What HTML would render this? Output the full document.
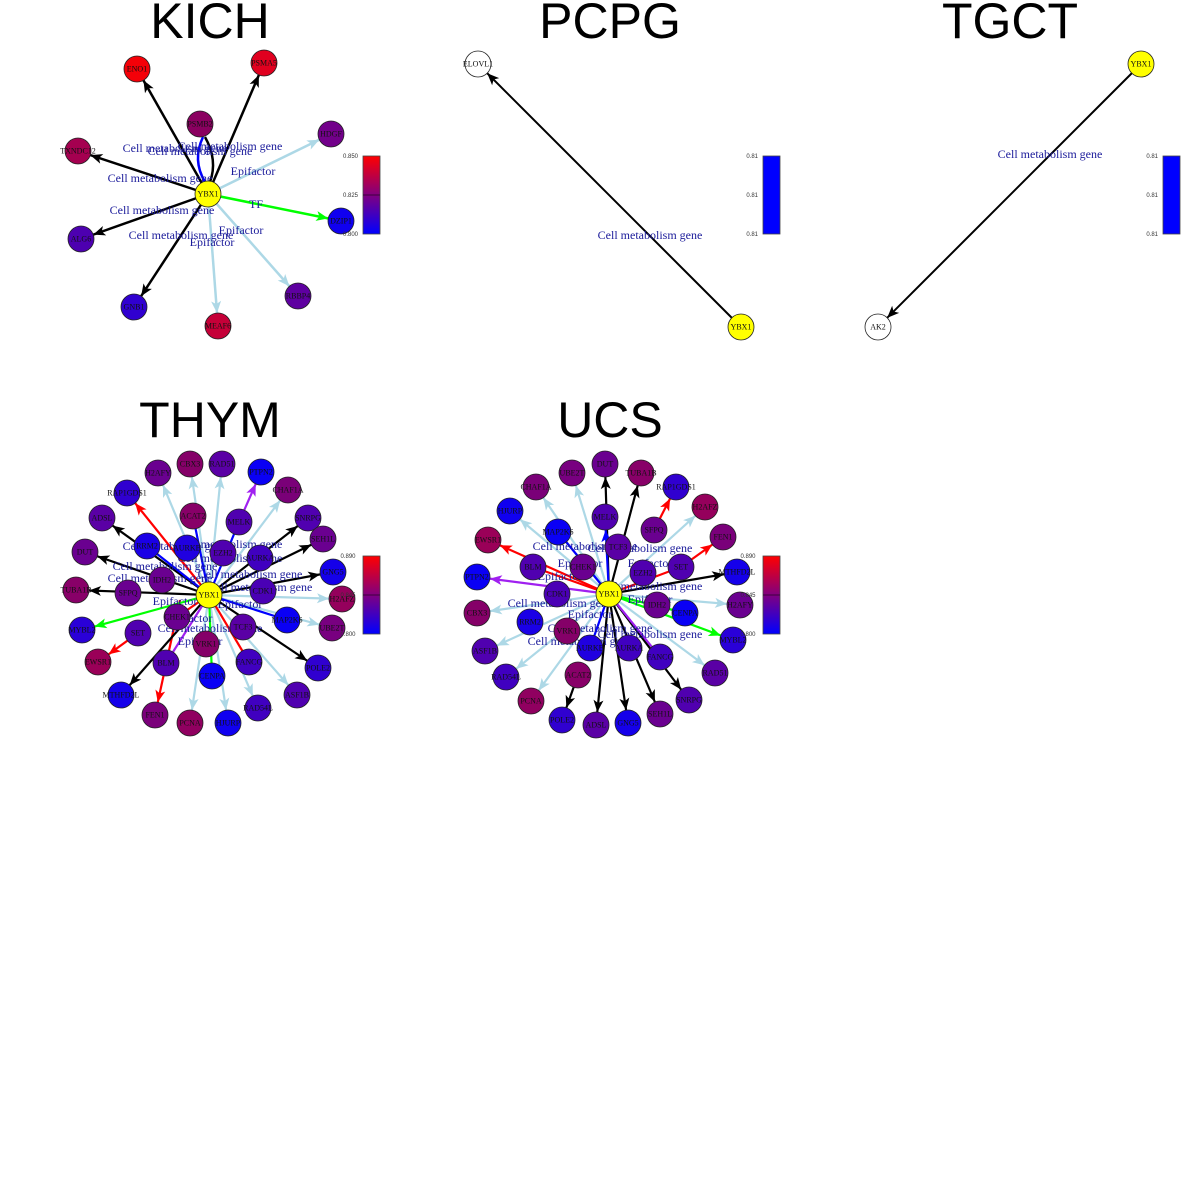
<!DOCTYPE html>
<html><head><meta charset="utf-8"><style>
body{margin:0;background:#fff;width:1200px;height:1200px;overflow:hidden}
svg{display:block}
.t{font-family:"Liberation Sans",sans-serif;font-size:50px;text-anchor:middle;fill:#000}
.n text{font-family:"Liberation Serif",serif;font-size:8px;text-anchor:middle;dominant-baseline:central;fill:#111}
.n circle{stroke:#222;stroke-width:0.8}
.l{font-family:"Liberation Serif",serif;font-size:12px;fill:#1a1a9a;text-anchor:middle}
.cb{font-family:"Liberation Sans",sans-serif;font-size:6px;fill:#333;text-anchor:end}
</style></head><body>
<svg width="1200" height="1200" viewBox="0 0 1200 1200" xmlns="http://www.w3.org/2000/svg">
<defs>
<marker id="mk" markerUnits="userSpaceOnUse" markerWidth="40" markerHeight="20" refX="25" refY="5" orient="auto" overflow="visible"><path d="M0,0 L12,5 L0,10 L3,5z" fill="#000"/></marker>
<marker id="mb" markerUnits="userSpaceOnUse" markerWidth="40" markerHeight="20" refX="25" refY="5" orient="auto" overflow="visible"><path d="M0,0 L12,5 L0,10 L3,5z" fill="#add8e6"/></marker>
<marker id="mr" markerUnits="userSpaceOnUse" markerWidth="40" markerHeight="20" refX="25" refY="5" orient="auto" overflow="visible"><path d="M0,0 L12,5 L0,10 L3,5z" fill="#f00"/></marker>
<marker id="mg" markerUnits="userSpaceOnUse" markerWidth="40" markerHeight="20" refX="25" refY="5" orient="auto" overflow="visible"><path d="M0,0 L12,5 L0,10 L3,5z" fill="#0f0"/></marker>
<marker id="mp" markerUnits="userSpaceOnUse" markerWidth="40" markerHeight="20" refX="25" refY="5" orient="auto" overflow="visible"><path d="M0,0 L12,5 L0,10 L3,5z" fill="#a020f0"/></marker>
<marker id="mu" markerUnits="userSpaceOnUse" markerWidth="40" markerHeight="20" refX="25" refY="5" orient="auto" overflow="visible"><path d="M0,0 L12,5 L0,10 L3,5z" fill="#00f"/></marker>
<linearGradient id="gr" x1="0" y1="0" x2="0" y2="1"><stop offset="0" stop-color="#f00"/><stop offset="0.5" stop-color="#800080"/><stop offset="1" stop-color="#00f"/></linearGradient>
</defs>

<text class="t" x="210" y="38">KICH</text>
<text class="t" x="610" y="38">PCPG</text>
<text class="t" x="1010" y="38">TGCT</text>
<text class="t" x="210" y="437">THYM</text>
<text class="t" x="610" y="437">UCS</text>

<!-- KICH -->
<g stroke-width="2.5" fill="none">
<line x1="208" y1="194" x2="137" y2="69" stroke="#000" marker-end="url(#mk)"/>
<line x1="208" y1="194" x2="264" y2="63" stroke="#000" marker-end="url(#mk)"/>
<line x1="208" y1="194" x2="78" y2="151" stroke="#000" marker-end="url(#mk)"/>
<line x1="208" y1="194" x2="81" y2="239" stroke="#000" marker-end="url(#mk)"/>
<line x1="208" y1="194" x2="134" y2="307" stroke="#000" marker-end="url(#mk)"/>
<line x1="208" y1="194" x2="331" y2="134" stroke="#add8e6" marker-end="url(#mb)"/>
<line x1="208" y1="194" x2="218" y2="326" stroke="#add8e6" marker-end="url(#mb)"/>
<line x1="208" y1="194" x2="298" y2="296" stroke="#add8e6" marker-end="url(#mb)"/>
<line x1="208" y1="194" x2="341" y2="221" stroke="#0f0" marker-end="url(#mg)"/>
<path d="M205,182 Q192,160 203,137" stroke="#00f"/>
<path d="M210,182 Q218,160 205,137" stroke="#000"/>
</g>
<g class="l">
<text x="175" y="152">Cell metabolism gene</text><text x="230" y="150">Cell metabolism gene</text><text x="200" y="155">Cell metabolism gene</text>
<text x="160" y="182">Cell metabolism gene</text><text x="162" y="214">Cell metabolism gene</text><text x="181" y="239">Cell metabolism gene</text>
<text x="253" y="175">Epifactor</text><text x="241" y="234">Epifactor</text><text x="212" y="246">Epifactor</text><text x="256" y="208">TF</text>
</g>
<g class="n">
<circle cx="137" cy="69" r="13" fill="#f40008"/><text x="137" y="69">ENO1</text>
<circle cx="264" cy="63" r="13" fill="#e0001f"/><text x="264" y="63">PSMA5</text>
<circle cx="200" cy="124" r="13" fill="#8a0060"/><text x="200" y="124">PSMB2</text>
<circle cx="331" cy="134" r="13" fill="#72008a"/><text x="331" y="134">HDGF</text>
<circle cx="78" cy="151" r="13" fill="#a50050"/><text x="78" y="151">TXNDC12</text>
<circle cx="341" cy="221" r="13" fill="#1000f0"/><text x="341" y="221">DZIP1</text>
<circle cx="81" cy="239" r="13" fill="#4d00b0"/><text x="81" y="239">ALG6</text>
<circle cx="134" cy="307" r="13" fill="#3000d0"/><text x="134" y="307">GNB1</text>
<circle cx="218" cy="326" r="13" fill="#c50038"/><text x="218" y="326">MEAF6</text>
<circle cx="298" cy="296" r="13" fill="#5e00a0"/><text x="298" y="296">RBBP4</text>
<circle cx="208" cy="194" r="13" fill="#ff0"/><text x="208" y="194">YBX1</text>
</g>
<rect x="363" y="156" width="17" height="78" fill="url(#gr)" stroke="#444" stroke-width="0.8"/>
<line x1="363" y1="195" x2="380" y2="195" stroke="#000" stroke-width="0.6"/>
<g class="cb"><text x="358" y="158">0.850</text><text x="358" y="197">0.825</text><text x="358" y="236">0.800</text></g>

<!-- PCPG -->
<line x1="741" y1="327" x2="478" y2="64" stroke="#000" stroke-width="2" marker-end="url(#mk)"/>
<text class="l" x="650" y="239">Cell metabolism gene</text>
<g class="n"><circle cx="478" cy="64" r="13" fill="#fff"/><text x="478" y="64">ELOVL1</text>
<circle cx="741" cy="327" r="13" fill="#ff0"/><text x="741" y="327">YBX1</text></g>
<rect x="763" y="156" width="17" height="78" fill="#00f" stroke="#444" stroke-width="0.8"/>
<g class="cb"><text x="758" y="158">0.81</text><text x="758" y="197">0.81</text><text x="758" y="236">0.81</text></g>

<!-- TGCT -->
<line x1="1141" y1="64" x2="878" y2="327" stroke="#000" stroke-width="2" marker-end="url(#mk)"/>
<text class="l" x="1050" y="158">Cell metabolism gene</text>
<g class="n"><circle cx="878" cy="327" r="13" fill="#fff"/><text x="878" y="327">AK2</text>
<circle cx="1141" cy="64" r="13" fill="#ff0"/><text x="1141" y="64">YBX1</text></g>
<rect x="1163" y="156" width="17" height="78" fill="#00f" stroke="#444" stroke-width="0.8"/>
<g class="cb"><text x="1158" y="158">0.81</text><text x="1158" y="197">0.81</text><text x="1158" y="236">0.81</text></g>

<!-- THYM edges -->
<g stroke-width="2.2" fill="none">
<line x1="209" y1="595" x2="158" y2="473" stroke="#add8e6" marker-end="url(#mb)"/>
<line x1="209" y1="595" x2="190" y2="464" stroke="#add8e6" marker-end="url(#mb)"/>
<line x1="209" y1="595" x2="222" y2="464" stroke="#add8e6" marker-end="url(#mb)"/>
<line x1="239" y1="522" x2="261" y2="472" stroke="#a020f0" marker-end="url(#mp)"/>
<line x1="209" y1="595" x2="288" y2="490" stroke="#add8e6" marker-end="url(#mb)"/>
<line x1="209" y1="595" x2="308" y2="518" stroke="#000" marker-end="url(#mk)"/>
<line x1="209" y1="595" x2="323" y2="539" stroke="#000" marker-end="url(#mk)"/>
<line x1="209" y1="595" x2="333" y2="572" stroke="#000" marker-end="url(#mk)"/>
<line x1="209" y1="595" x2="342" y2="599" stroke="#add8e6" marker-end="url(#mb)"/>
<line x1="209" y1="595" x2="332" y2="628" stroke="#add8e6" marker-end="url(#mb)"/>
<line x1="209" y1="595" x2="318" y2="668" stroke="#000" marker-end="url(#mk)"/>
<line x1="209" y1="595" x2="297" y2="695" stroke="#add8e6" marker-end="url(#mb)"/>
<line x1="209" y1="595" x2="258" y2="708" stroke="#add8e6" marker-end="url(#mb)"/>
<line x1="209" y1="595" x2="228" y2="723" stroke="#add8e6" marker-end="url(#mb)"/>
<line x1="209" y1="595" x2="190" y2="723" stroke="#add8e6" marker-end="url(#mb)"/>
<line x1="180" y1="600" x2="155" y2="715" stroke="#f00" marker-end="url(#mr)"/>
<line x1="209" y1="595" x2="121" y2="695" stroke="#000" marker-end="url(#mk)"/>
<line x1="138" y1="633" x2="98" y2="662" stroke="#f00" marker-end="url(#mr)"/>
<line x1="209" y1="595" x2="82" y2="630" stroke="#0f0" marker-end="url(#mg)"/>
<line x1="209" y1="595" x2="76" y2="590" stroke="#000" marker-end="url(#mk)"/>
<line x1="209" y1="595" x2="85" y2="552" stroke="#000" marker-end="url(#mk)"/>
<line x1="209" y1="595" x2="102" y2="518" stroke="#000" marker-end="url(#mk)"/>
<line x1="209" y1="595" x2="127" y2="493" stroke="#f00" marker-end="url(#mr)"/>
<line x1="209" y1="595" x2="193" y2="516" stroke="#00f"/>
<line x1="209" y1="595" x2="239" y2="522" stroke="#00f"/>
<line x1="209" y1="595" x2="147" y2="546" stroke="#00f"/>
<line x1="209" y1="595" x2="287" y2="620" stroke="#00f"/>
<line x1="209" y1="595" x2="166" y2="663" stroke="#a020f0"/>
<line x1="209" y1="595" x2="212" y2="676" stroke="#0f0"/>
<line x1="209" y1="595" x2="249" y2="662" stroke="#f00"/>
<line x1="209" y1="595" x2="177" y2="617" stroke="#f00"/>
</g>
<g class="l">
<text x="175" y="550">Cell metabolism gene</text><text x="230" y="548">Cell metabolism gene</text>
<text x="165" y="570">Cell metabolism gene</text><text x="250" y="578">Cell metabolism gene</text>
<text x="160" y="582">Cell metabolism gene</text><text x="260" y="591">Cell metabolism gene</text>
<text x="175" y="605">Epifactor</text><text x="240" y="608">Epifactor</text>
<text x="190" y="622">Epifactor</text><text x="210" y="632">Cell metabolism gene</text>
<text x="200" y="645">Epifactor</text><text x="230" y="562">Cell metabolism gene</text>
</g>
<g class="n">
<circle cx="158" cy="473" r="13" fill="#6a0090"/><text x="158" y="473">H2AFY</text>
<circle cx="190" cy="464" r="13" fill="#850068"/><text x="190" y="464">CBX3</text>
<circle cx="222" cy="464" r="13" fill="#5a00a5"/><text x="222" y="464">RAD51</text>
<circle cx="261" cy="472" r="13" fill="#0a00f5"/><text x="261" y="472">PTPN2</text>
<circle cx="288" cy="490" r="13" fill="#7a0078"/><text x="288" y="490">CHAF1A</text>
<circle cx="308" cy="518" r="13" fill="#5000b0"/><text x="308" y="518">SNRPG</text>
<circle cx="323" cy="539" r="13" fill="#6a0090"/><text x="323" y="539">SEH1L</text>
<circle cx="333" cy="572" r="13" fill="#1500ea"/><text x="333" y="572">GNG5</text>
<circle cx="342" cy="599" r="13" fill="#95005c"/><text x="342" y="599">H2AFZ</text>
<circle cx="332" cy="628" r="13" fill="#780080"/><text x="332" y="628">UBE2T</text>
<circle cx="318" cy="668" r="13" fill="#3000d0"/><text x="318" y="668">POLE2</text>
<circle cx="297" cy="695" r="13" fill="#5000b0"/><text x="297" y="695">ASF1B</text>
<circle cx="258" cy="708" r="13" fill="#4000c0"/><text x="258" y="708">RAD54L</text>
<circle cx="228" cy="723" r="13" fill="#1000f0"/><text x="228" y="723">HJURP</text>
<circle cx="190" cy="723" r="13" fill="#900060"/><text x="190" y="723">PCNA</text>
<circle cx="155" cy="715" r="13" fill="#7a007a"/><text x="155" y="715">FEN1</text>
<circle cx="121" cy="695" r="13" fill="#1500ea"/><text x="121" y="695">MTHFD2L</text>
<circle cx="98" cy="662" r="13" fill="#9a0058"/><text x="98" y="662">EWSR1</text>
<circle cx="82" cy="630" r="13" fill="#2a00d8"/><text x="82" y="630">MYBL2</text>
<circle cx="76" cy="590" r="13" fill="#880068"/><text x="76" y="590">TUBA1B</text>
<circle cx="85" cy="552" r="13" fill="#6a0090"/><text x="85" y="552">DUT</text>
<circle cx="102" cy="518" r="13" fill="#5a00a5"/><text x="102" y="518">ADSL</text>
<circle cx="127" cy="493" r="13" fill="#3000d0"/><text x="127" y="493">RAP1GDS1</text>
<circle cx="193" cy="516" r="13" fill="#880068"/><text x="193" y="516">ACAT2</text>
<circle cx="239" cy="522" r="13" fill="#5000b0"/><text x="239" y="522">MELK</text>
<circle cx="147" cy="546" r="13" fill="#1a00e6"/><text x="147" y="546">RRM2</text>
<circle cx="187" cy="548" r="13" fill="#2000e0"/><text x="187" y="548">AURKB</text>
<circle cx="223" cy="553" r="13" fill="#5000b0"/><text x="223" y="553">EZH2</text>
<circle cx="260" cy="558" r="13" fill="#4000c0"/><text x="260" y="558">AURKA</text>
<circle cx="162" cy="580" r="13" fill="#6a0090"/><text x="162" y="580">IDH2</text>
<circle cx="263" cy="591" r="13" fill="#4a00b5"/><text x="263" y="591">CDK1</text>
<circle cx="128" cy="593" r="13" fill="#6a0090"/><text x="128" y="593">SFPQ</text>
<circle cx="287" cy="620" r="13" fill="#0a00f5"/><text x="287" y="620">MAP2K6</text>
<circle cx="177" cy="617" r="13" fill="#6a0090"/><text x="177" y="617">CHEK1</text>
<circle cx="243" cy="627" r="13" fill="#5a00a5"/><text x="243" y="627">TCF3</text>
<circle cx="138" cy="633" r="13" fill="#5000b0"/><text x="138" y="633">SET</text>
<circle cx="206" cy="644" r="13" fill="#850068"/><text x="206" y="644">VRK1</text>
<circle cx="166" cy="663" r="13" fill="#5000b0"/><text x="166" y="663">BLM</text>
<circle cx="249" cy="662" r="13" fill="#4000c0"/><text x="249" y="662">FANCG</text>
<circle cx="212" cy="676" r="13" fill="#0a00f5"/><text x="212" y="676">CENPA</text>
<circle cx="209" cy="595" r="13" fill="#ff0"/><text x="209" y="595">YBX1</text>
</g>
<rect x="363" y="556" width="17" height="78" fill="url(#gr)" stroke="#444" stroke-width="0.8"/>
<line x1="363" y1="595" x2="380" y2="595" stroke="#000" stroke-width="0.6"/>
<g class="cb" style="text-anchor:middle"><text x="348" y="558">0.890</text><text x="348" y="597">0.845</text><text x="348" y="636">0.800</text></g>

<!-- UCS edges -->
<g stroke-width="2.2" fill="none">
<line x1="609" y1="594" x2="605" y2="464" stroke="#000" marker-end="url(#mk)"/>
<line x1="609" y1="594" x2="641" y2="473" stroke="#000" marker-end="url(#mk)"/>
<line x1="654" y1="530" x2="676" y2="487" stroke="#f00" marker-end="url(#mr)"/>
<line x1="609" y1="594" x2="705" y2="507" stroke="#add8e6" marker-end="url(#mb)"/>
<line x1="681" y1="567" x2="723" y2="537" stroke="#f00" marker-end="url(#mr)"/>
<line x1="609" y1="594" x2="737" y2="572" stroke="#000" marker-end="url(#mk)"/>
<line x1="609" y1="594" x2="740" y2="605" stroke="#add8e6" marker-end="url(#mb)"/>
<line x1="609" y1="594" x2="733" y2="640" stroke="#0f0" marker-end="url(#mg)"/>
<line x1="609" y1="594" x2="715" y2="673" stroke="#add8e6" marker-end="url(#mb)"/>
<line x1="609" y1="594" x2="689" y2="700" stroke="#000" marker-end="url(#mk)"/>
<line x1="609" y1="594" x2="660" y2="714" stroke="#000" marker-end="url(#mk)"/>
<line x1="609" y1="594" x2="628" y2="723" stroke="#000" marker-end="url(#mk)"/>
<line x1="609" y1="594" x2="596" y2="725" stroke="#000" marker-end="url(#mk)"/>
<line x1="578" y1="675" x2="562" y2="720" stroke="#000" marker-end="url(#mk)"/>
<line x1="609" y1="594" x2="531" y2="701" stroke="#add8e6" marker-end="url(#mb)"/>
<line x1="609" y1="594" x2="506" y2="677" stroke="#add8e6" marker-end="url(#mb)"/>
<line x1="609" y1="594" x2="485" y2="651" stroke="#add8e6" marker-end="url(#mb)"/>
<line x1="609" y1="594" x2="477" y2="613" stroke="#add8e6" marker-end="url(#mb)"/>
<line x1="609" y1="594" x2="477" y2="577" stroke="#a020f0" marker-end="url(#mp)"/>
<line x1="609" y1="594" x2="488" y2="540" stroke="#f00" marker-end="url(#mr)"/>
<line x1="609" y1="594" x2="510" y2="511" stroke="#add8e6" marker-end="url(#mb)"/>
<line x1="609" y1="594" x2="536" y2="487" stroke="#add8e6" marker-end="url(#mb)"/>
<line x1="609" y1="594" x2="572" y2="473" stroke="#add8e6" marker-end="url(#mb)"/>
<line x1="609" y1="594" x2="605" y2="517" stroke="#00f" marker-end="url(#mu)"/>
<line x1="609" y1="594" x2="558" y2="532" stroke="#00f"/>
<line x1="609" y1="594" x2="685" y2="613" stroke="#0f0"/>
<line x1="609" y1="594" x2="590" y2="648" stroke="#00f"/>
<line x1="609" y1="594" x2="681" y2="567" stroke="#f00"/>
<line x1="609" y1="594" x2="533" y2="567" stroke="#f00"/>
<line x1="609" y1="594" x2="660" y2="657" stroke="#a020f0"/>
</g>
<g class="l">
<text x="585" y="550">Cell metabolism gene</text><text x="640" y="552">Cell metabolism gene</text>
<text x="580" y="567">Epifactor</text><text x="650" y="567">Epifactor</text>
<text x="650" y="590">Cell metabolism gene</text><text x="560" y="607">Cell metabolism gene</text>
<text x="650" y="603">Epifactor</text><text x="590" y="618">Epifactor</text>
<text x="600" y="632">Cell metabolism gene</text><text x="650" y="638">Cell metabolism gene</text>
<text x="580" y="645">Cell metabolism gene</text><text x="560" y="580">Epifactor</text>
</g>
<g class="n">
<circle cx="605" cy="464" r="13" fill="#6a0090"/><text x="605" y="464">DUT</text>
<circle cx="641" cy="473" r="13" fill="#880068"/><text x="641" y="473">TUBA1B</text>
<circle cx="676" cy="487" r="13" fill="#3000d0"/><text x="676" y="487">RAP1GDS1</text>
<circle cx="705" cy="507" r="13" fill="#95005c"/><text x="705" y="507">H2AFZ</text>
<circle cx="723" cy="537" r="13" fill="#7a007a"/><text x="723" y="537">FEN1</text>
<circle cx="737" cy="572" r="13" fill="#1500ea"/><text x="737" y="572">MTHFD2L</text>
<circle cx="740" cy="605" r="13" fill="#6a0090"/><text x="740" y="605">H2AFY</text>
<circle cx="733" cy="640" r="13" fill="#2a00d8"/><text x="733" y="640">MYBL2</text>
<circle cx="715" cy="673" r="13" fill="#5a00a5"/><text x="715" y="673">RAD51</text>
<circle cx="689" cy="700" r="13" fill="#5000b0"/><text x="689" y="700">SNRPG</text>
<circle cx="660" cy="714" r="13" fill="#6a0090"/><text x="660" y="714">SEH1L</text>
<circle cx="628" cy="723" r="13" fill="#1500ea"/><text x="628" y="723">GNG5</text>
<circle cx="596" cy="725" r="13" fill="#5a00a5"/><text x="596" y="725">ADSL</text>
<circle cx="562" cy="720" r="13" fill="#3000d0"/><text x="562" y="720">POLE2</text>
<circle cx="531" cy="701" r="13" fill="#900060"/><text x="531" y="701">PCNA</text>
<circle cx="506" cy="677" r="13" fill="#4000c0"/><text x="506" y="677">RAD54L</text>
<circle cx="485" cy="651" r="13" fill="#5000b0"/><text x="485" y="651">ASF1B</text>
<circle cx="477" cy="613" r="13" fill="#850068"/><text x="477" y="613">CBX3</text>
<circle cx="477" cy="577" r="13" fill="#0a00f5"/><text x="477" y="577">PTPN2</text>
<circle cx="488" cy="540" r="13" fill="#9a0058"/><text x="488" y="540">EWSR1</text>
<circle cx="510" cy="511" r="13" fill="#1000f0"/><text x="510" y="511">HJURP</text>
<circle cx="536" cy="487" r="13" fill="#7a0078"/><text x="536" y="487">CHAF1A</text>
<circle cx="572" cy="473" r="13" fill="#780080"/><text x="572" y="473">UBE2T</text>
<circle cx="605" cy="517" r="13" fill="#5000b0"/><text x="605" y="517">MELK</text>
<circle cx="558" cy="532" r="13" fill="#0a00f5"/><text x="558" y="532">MAP2K6</text>
<circle cx="654" cy="530" r="13" fill="#6a0090"/><text x="654" y="530">SFPQ</text>
<circle cx="618" cy="547" r="13" fill="#5a00a5"/><text x="618" y="547">TCF3</text>
<circle cx="533" cy="567" r="13" fill="#5000b0"/><text x="533" y="567">BLM</text>
<circle cx="583" cy="567" r="13" fill="#6a0090"/><text x="583" y="567">CHEK1</text>
<circle cx="681" cy="567" r="13" fill="#5000b0"/><text x="681" y="567">SET</text>
<circle cx="643" cy="573" r="13" fill="#5000b0"/><text x="643" y="573">EZH2</text>
<circle cx="557" cy="594" r="13" fill="#4a00b5"/><text x="557" y="594">CDK1</text>
<circle cx="657" cy="605" r="13" fill="#6a0090"/><text x="657" y="605">IDH2</text>
<circle cx="685" cy="613" r="13" fill="#0a00f5"/><text x="685" y="613">CENPA</text>
<circle cx="530" cy="622" r="13" fill="#1a00e6"/><text x="530" y="622">RRM2</text>
<circle cx="567" cy="631" r="13" fill="#850068"/><text x="567" y="631">VRK1</text>
<circle cx="590" cy="648" r="13" fill="#2000e0"/><text x="590" y="648">AURKB</text>
<circle cx="629" cy="648" r="13" fill="#4000c0"/><text x="629" y="648">AURKA</text>
<circle cx="660" cy="657" r="13" fill="#4000c0"/><text x="660" y="657">FANCG</text>
<circle cx="578" cy="675" r="13" fill="#880068"/><text x="578" y="675">ACAT2</text>
<circle cx="609" cy="594" r="13" fill="#ff0"/><text x="609" y="594">YBX1</text>
</g>
<rect x="763" y="556" width="17" height="78" fill="url(#gr)" stroke="#444" stroke-width="0.8"/>
<line x1="763" y1="595" x2="780" y2="595" stroke="#000" stroke-width="0.6"/>
<g class="cb" style="text-anchor:middle"><text x="748" y="558">0.890</text><text x="748" y="597">0.845</text><text x="748" y="636">0.800</text></g>
</svg>
</body></html>
